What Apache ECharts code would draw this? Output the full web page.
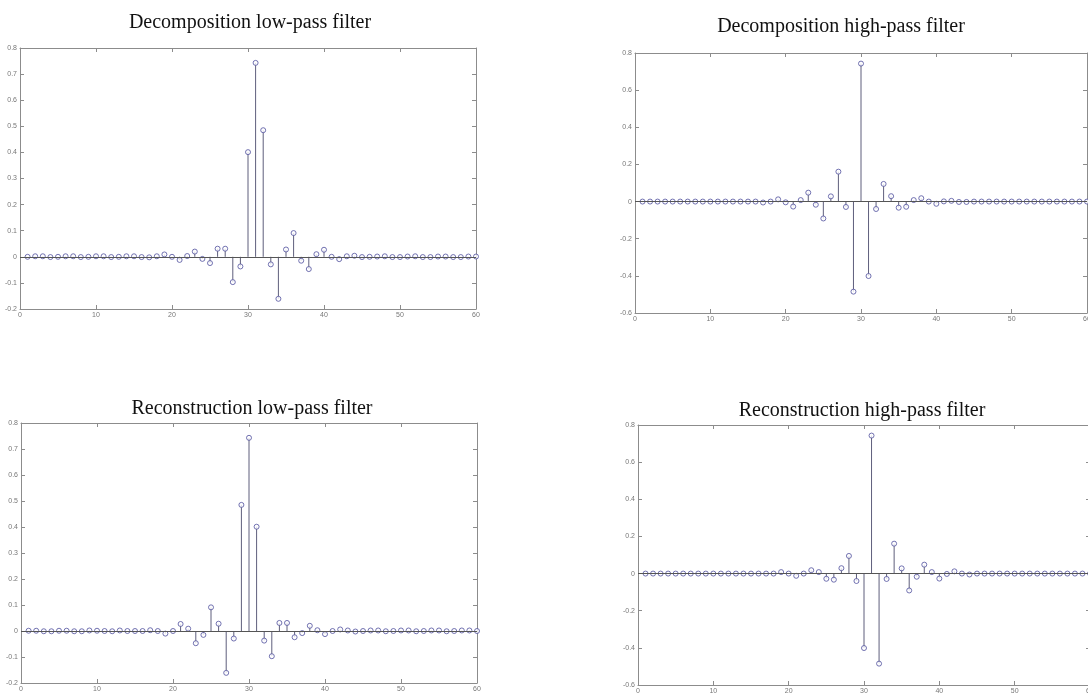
<!DOCTYPE html>
<html>
<head>
<meta charset="utf-8">
<script src="https://cdn.jsdelivr.net/npm/echarts@6/dist/echarts.min.js"></script>
<style>
  html, body { margin: 0; padding: 0; background: #fff; }
  #chart { width: 1088px; height: 693px; }
</style>
</head>
<body>
<div id="chart"></div>
<script>
// filter coefficients, index 1..60
var decLo = [0, 0.002, 0.002, -0.001, 0, 0.002, 0.002, -0.001, 0, 0.002,
             0.002, -0.001, 0, 0.002, 0.002, -0.001, -0.002, 0.002, 0.009, 0,
             -0.012, 0.003, 0.02, -0.008, -0.024, 0.031, 0.031, -0.097, -0.037, 0.401,
             0.743, 0.485, -0.029, -0.161, 0.028, 0.091, -0.015, -0.047, 0.01, 0.027,
             0, -0.009, 0.002, 0.004, -0.001, 0, 0.001, 0.002, -0.001, -0.001,
             0.001, 0.002, -0.001, -0.001, 0.001, 0.001, -0.001, -0.001, 0.001, 0.001];
var decHi = [0, 0, 0, 0, 0, 0, 0, 0, 0, 0,
             0, 0, 0, 0, 0, 0, -0.005, 0, 0.012, -0.004,
             -0.027, 0.008, 0.048, -0.017, -0.091, 0.028, 0.161, -0.029, -0.485, 0.743,
             -0.401, -0.04, 0.095, 0.029, -0.033, -0.028, 0.008, 0.018, 0, -0.012,
             0.001, 0.004, -0.002, -0.002, 0, 0, 0, 0, 0, 0,
             0, 0, 0, 0, 0, 0, 0, 0, 0, 0];
var recLo = [0.001, 0.001, -0.001, -0.001, 0.001, 0.001, -0.001, -0.001, 0.002, 0.001,
             0, -0.001, 0.002, 0, 0, 0, 0.003, 0, -0.01, 0,
             0.027, 0.009, -0.047, -0.015, 0.091, 0.028, -0.161, -0.029, 0.485, 0.743,
             0.401, -0.037, -0.097, 0.031, 0.031, -0.024, -0.008, 0.02, 0.003, -0.012,
             0, 0.006, 0.002, -0.002, 0, 0.002, 0.002, -0.001, 0, 0.002,
             0.002, -0.001, 0, 0.002, 0.002, -0.001, 0, 0.002, 0.002, 0];
var recHi = [0, 0, 0, 0, 0, 0, 0, 0, 0, 0,
             0, 0, 0, 0, 0, 0, 0, 0, 0.008, 0,
             -0.012, 0, 0.018, 0.008, -0.028, -0.033, 0.029, 0.095, -0.04, -0.401,
             0.743, -0.485, -0.029, 0.161, 0.028, -0.091, -0.017, 0.048, 0.008, -0.027,
             -0.002, 0.012, 0, -0.005, 0, 0, 0, 0, 0, 0,
             0, 0, 0, 0, 0, 0, 0, 0, 0, 0];

var titles = ['Decomposition low-pass filter', 'Decomposition high-pass filter',
              'Reconstruction low-pass filter', 'Reconstruction high-pass filter'];
var xTicks = [0, 60, 10];
var yLowTicks = [-0.2, 0.8, 0.1];
var yHighTicks = [-0.6, 0.8, 0.2];

var panels = [
  { data: decLo, y: yLowTicks, grid: { left: 20, top: 48, width: 456, height: 261 }, tx: 245, ty: 8 },
  { data: decHi, y: yHighTicks, grid: { left: 635, top: 53, width: 452, height: 260 }, tx: 836, ty: 12 },
  { data: recLo, y: yLowTicks, grid: { left: 21, top: 423, width: 456, height: 260 }, tx: 247, ty: 394 },
  { data: recHi, y: yHighTicks, grid: { left: 638, top: 425, width: 452, height: 260 }, tx: 857, ty: 396 }
];

var axisColor = '#8c8c8c';
var stemColor = '#5e5e7c';
var markColor = '#50509e';

var option = { animation: false, title: [], grid: [], xAxis: [], yAxis: [], series: [] };

panels.forEach(function (p, k) {
  var pts = p.data.map(function (v, i) { return [i + 1, v]; });

  option.title.push({
    text: titles[k], left: p.tx, top: p.ty, textAlign: 'center',
    textStyle: { fontFamily: 'Liberation Serif', fontSize: 20, fontWeight: 'normal', color: '#111' }
  });
  option.grid.push(Object.assign({ show: false, outerBoundsMode: 'none', containLabel: false }, p.grid));

  // bottom + top x axes (box with inward ticks)
  option.xAxis.push({
    type: 'value', gridIndex: k, min: xTicks[0], max: xTicks[1], interval: xTicks[2],
    position: 'bottom',
    axisLine: { onZero: false, lineStyle: { color: axisColor, width: 1 } },
    axisTick: { inside: true, length: 4, lineStyle: { color: axisColor } },
    axisLabel: { fontSize: 7, color: '#777', margin: 3, fontFamily: 'Arial' },
    splitLine: { show: false }
  });
  option.xAxis.push({
    type: 'value', gridIndex: k, min: xTicks[0], max: xTicks[1], interval: xTicks[2],
    position: 'top',
    axisLine: { onZero: false, lineStyle: { color: axisColor, width: 1 } },
    axisTick: { inside: true, length: 4, lineStyle: { color: axisColor } },
    axisLabel: { show: false }, splitLine: { show: false }
  });
  option.yAxis.push({
    type: 'value', gridIndex: k, min: p.y[0], max: p.y[1], interval: p.y[2],
    position: 'left',
    axisLine: { show: true, onZero: false, lineStyle: { color: axisColor, width: 1 } },
    axisTick: { show: true, inside: true, length: 4, lineStyle: { color: axisColor } },
    axisLabel: { fontSize: 7, color: '#777', margin: 3, fontFamily: 'Arial' },
    splitLine: { show: false }
  });
  option.yAxis.push({
    type: 'value', gridIndex: k, min: p.y[0], max: p.y[1], interval: p.y[2],
    position: 'right',
    axisLine: { show: true, onZero: false, lineStyle: { color: axisColor, width: 1 } },
    axisTick: { show: true, inside: true, length: 4, lineStyle: { color: axisColor } },
    axisLabel: { show: false }, splitLine: { show: false }
  });

  // stems
  option.series.push({
    type: 'custom', xAxisIndex: 2 * k, yAxisIndex: 2 * k, data: pts, z: 2,
    renderItem: function (params, api) {
      var a = api.coord([api.value(0), 0]);
      var b = api.coord([api.value(0), api.value(1)]);
      return { type: 'line', shape: { x1: a[0], y1: a[1], x2: b[0], y2: b[1] },
               style: { stroke: stemColor, lineWidth: 1 } };
    }
  });
  // markers + baseline
  option.series.push({
    type: 'scatter', xAxisIndex: 2 * k, yAxisIndex: 2 * k, data: pts, z: 3,
    symbol: 'circle', symbolSize: 5,
    itemStyle: { color: '#fff', borderColor: markColor, borderWidth: 1 },
    markLine: {
      silent: true, symbol: 'none', label: { show: false },
      lineStyle: { color: '#555', width: 1, type: 'solid' },
      data: [{ yAxis: 0 }]
    }
  });
});

var chart = echarts.init(document.getElementById('chart'));
chart.setOption(option);
</script>
</body>
</html>
